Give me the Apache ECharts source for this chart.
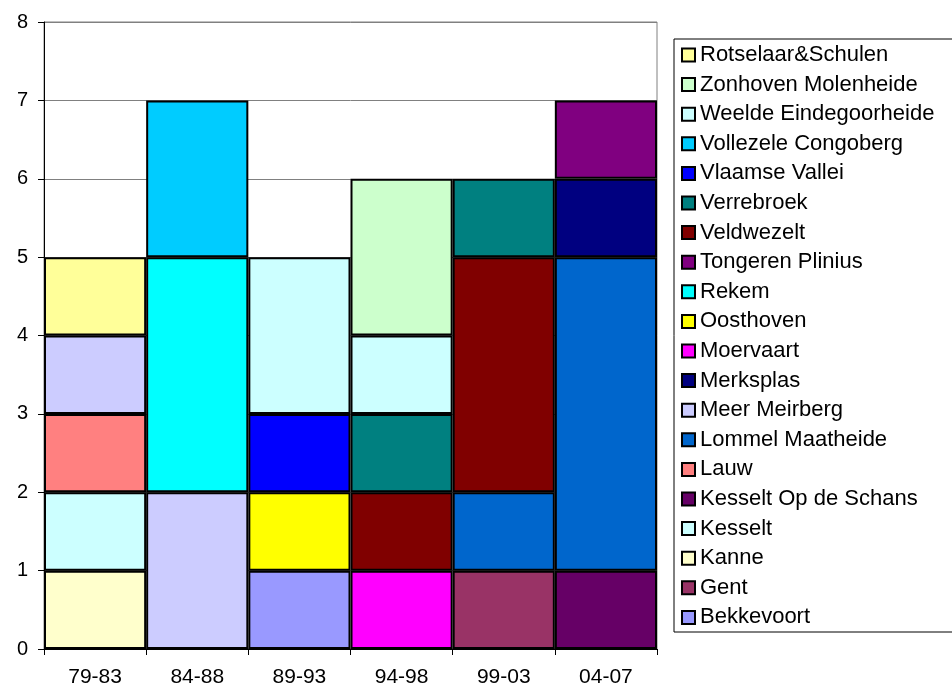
<!DOCTYPE html>
<html>
<head>
<meta charset="utf-8">
<script src="https://cdn.jsdelivr.net/npm/echarts@6/dist/echarts.min.js"></script>
<style>html,body{margin:0;padding:0;background:#fff;}#c{width:952px;height:689px;}</style>
</head>
<body>
<div id="c"></div>
<script>
const categories = ['79-83', '84-88', '89-93', '94-98', '99-03', '04-07'];
const yTicks = [0, 1, 2, 3, 4, 5, 6, 7, 8];
// series in stacking order (bottom to top)
const seriesNames = ['Bekkevoort', 'Gent', 'Kanne', 'Kesselt', 'Kesselt Op de Schans', 'Lauw', 'Lommel Maatheide', 'Meer Meirberg', 'Merksplas', 'Moervaart', 'Oosthoven', 'Rekem', 'Tongeren Plinius', 'Veldwezelt', 'Verrebroek', 'Vlaamse Vallei', 'Vollezele Congoberg', 'Weelde Eindegoorheide', 'Zonhoven Molenheide', 'Rotselaar&Schulen'];
const seriesColors = ['#9999FF', '#993366', '#FFFFCC', '#CCFFFF', '#660066', '#FF8080', '#0066CC', '#CCCCFF', '#000080', '#FF00FF', '#FFFF00', '#00FFFF', '#800080', '#800000', '#008080', '#0000FF', '#00CCFF', '#CCFFFF', '#CCFFCC', '#FFFF99'];
const Bekkevoort = [null, null, 1, null, null, null];
const Gent = [null, null, null, null, 1, null];
const Kanne = [1, null, null, null, null, null];
const Kesselt = [1, null, null, null, null, null];
const KesseltOpDeSchans = [null, null, null, null, null, 1];
const Lauw = [1, null, null, null, null, null];
const LommelMaatheide = [null, null, null, null, 1, 4];
const MeerMeirberg = [1, 2, null, null, null, null];
const Merksplas = [null, null, null, null, null, 1];
const Moervaart = [null, null, null, 1, null, null];
const Oosthoven = [null, null, 1, null, null, null];
const Rekem = [null, 3, null, null, null, null];
const TongerenPlinius = [null, null, null, null, null, 1];
const Veldwezelt = [null, null, null, 1, 3, null];
const Verrebroek = [null, null, null, 1, 1, null];
const VlaamseVallei = [null, null, 1, null, null, null];
const VollezeleCongoberg = [null, 2, null, null, null, null];
const WeeldeEindegoorheide = [null, null, 2, 1, null, null];
const ZonhovenMolenheide = [null, null, null, 2, null, null];
const RotselaarSchulen = [1, null, null, null, null, null];
const seriesValues = [Bekkevoort, Gent, Kanne, Kesselt, KesseltOpDeSchans, Lauw, LommelMaatheide, MeerMeirberg, Merksplas, Moervaart, Oosthoven, Rekem, TongerenPlinius, Veldwezelt, Verrebroek, VlaamseVallei, VollezeleCongoberg, WeeldeEindegoorheide, ZonhovenMolenheide, RotselaarSchulen];

const chart = echarts.init(document.getElementById('c'), null, {renderer: 'canvas'});
const font = 'Arial, "Liberation Sans", sans-serif';
const option = {
  animation: false,
  textStyle: {fontFamily: font},
  grid: {left: 44, right: 295, top: 22, bottom: 40, show: true, borderColor: '#808080', borderWidth: 1, backgroundColor: '#fff'},
  legend: {
    orient: 'vertical',
    left: 674, top: 39,
    data: seriesNames.slice().reverse(),
    icon: 'rect',
    itemWidth: 13, itemHeight: 13,
    itemGap: 7.6,
    padding: [5, 300, 3.6, 7],
    borderColor: '#000', borderWidth: 1,
    textStyle: {fontFamily: font, fontSize: 22, color: '#000'},
    selectedMode: false
  },
  xAxis: {
    type: 'category', data: categories,
    axisLine: {lineStyle: {color: '#000', width: 1}},
    axisTick: {show: true, length: 6, alignWithLabel: false, lineStyle: {color: '#000'}},
    axisLabel: {color: '#000', fontSize: 21, fontFamily: font, margin: 18},
    splitLine: {show: false}
  },
  yAxis: {
    type: 'value', min: yTicks[0], max: yTicks[yTicks.length - 1], interval: 1,
    axisLine: {show: true, lineStyle: {color: '#000', width: 1}},
    axisTick: {show: true, length: 6, lineStyle: {color: '#000'}},
    axisLabel: {color: '#000', fontSize: 20, fontFamily: font, margin: 16},
    splitLine: {show: true, lineStyle: {color: '#808080', width: 1}}
  },
  series: seriesNames.map((n, i) => ({
    name: n, type: 'bar', stack: 'total', data: seriesValues[i],
    barCategoryGap: '0%',
    itemStyle: {color: seriesColors[i], borderColor: '#000', borderWidth: 2}
  }))
};
chart.setOption(option);
</script>
</body>
</html>
